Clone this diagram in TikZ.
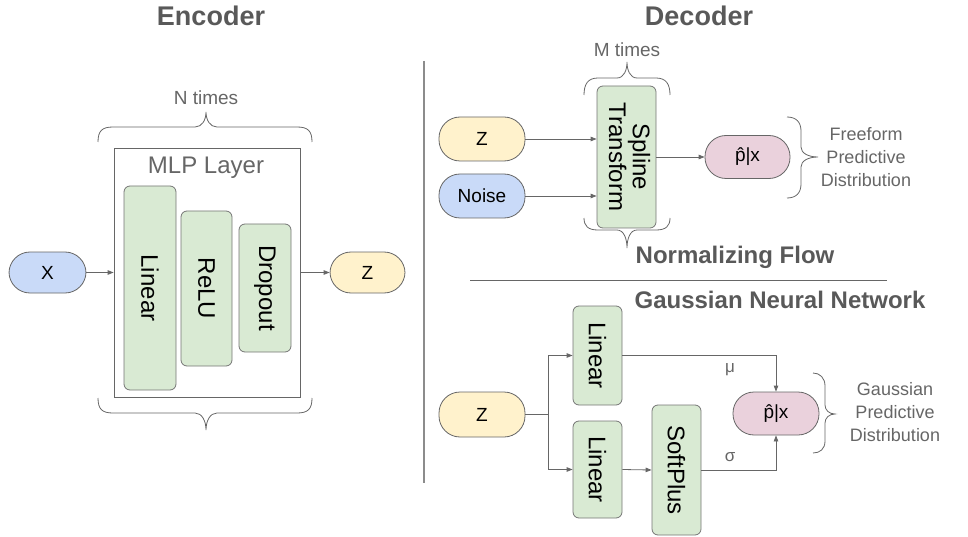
\documentclass[tikz,border=0pt]{standalone}
\usepackage{fontspec}
\setmainfont{Liberation Sans}
\usetikzlibrary{arrows.meta}
\definecolor{cblue}{HTML}{C9DAF8}
\definecolor{cyellow}{HTML}{FFF2CC}
\definecolor{cpink}{HTML}{EAD1DC}
\definecolor{cgreen}{HTML}{D9EAD3}
\definecolor{cline}{HTML}{666666}
\definecolor{ctitle}{HTML}{595959}
\definecolor{clabel}{HTML}{666666}
\tikzset{
  pill/.style={draw=cline, line width=0.8pt, rounded corners=21pt, inner sep=0pt, font=\fontsize{19}{22}\selectfont},
  greenbox/.style={draw=cline!90, fill=cgreen, line width=0.8pt, rounded corners=6pt, inner sep=0pt, font=\fontsize{24}{21}\selectfont},
  title/.style={text=ctitle, font=\bfseries\fontsize{24}{28}\selectfont},
  bigtitle/.style={text=ctitle, font=\bfseries\fontsize{27}{30}\selectfont},
  lbl/.style={text=clabel, font=\fontsize{19}{22}\selectfont},
  side/.style={text=clabel, align=center, font=\fontsize{18}{23}\selectfont},
  arr/.style={draw=cline, line width=0.8pt, -{Triangle[length=6pt,width=4.5pt]}},
  conn/.style={draw=cline, line width=0.8pt},
  bracestyle/.style={draw=cline, line width=0.8pt},
}
\begin{document}
\begin{tikzpicture}[x=1pt,y=-1pt]
\useasboundingbox (0,0) rectangle (968,537);

% ---------------- Encoder ----------------
\node[bigtitle] (enctitle) at (211,16) {Encoder};
\node[lbl] (ntimes) at (206,98) {N times};
\draw[bracestyle] (98,142) .. controls (98,131) and (102,127) .. (113,127) -- (195,127) .. controls (202,127) and (206,120) .. (206,112) .. controls (206,120) and (210,127) .. (217,127) -- (297,127) .. controls (308,127) and (312,131) .. (312,142);
\draw[bracestyle] (98,398) .. controls (98,409) and (102,413) .. (113,413) -- (195,413) .. controls (202,413) and (206,421) .. (206,430) .. controls (206,421) and (210,413) .. (217,413) -- (297,413) .. controls (308,413) and (312,409) .. (312,398);

\node[draw=cline, line width=0.8pt, minimum width=186pt, minimum height=249pt, inner sep=0pt] (mlp) at (207,272.5) {};
\node[text=clabel, font=\fontsize{24}{28}\selectfont] (mlptitle) at (206,168) {MLP Layer};
\node[greenbox, minimum width=52pt, minimum height=204pt] (lin) at (150,288) {\rotatebox{-90}{Linear}};
\node[greenbox, minimum width=51pt, minimum height=155pt] (relu) at (206.5,288.5) {\rotatebox{-90}{ReLU}};
\node[greenbox, minimum width=52pt, minimum height=128pt] (drop) at (265,288) {\rotatebox{-90}{Dropout}};

\node[pill, fill=cblue, minimum width=77pt, minimum height=41pt] (x) at (47.5,272.5) {X};
\node[pill, fill=cyellow, minimum width=75pt, minimum height=41pt] (zenc) at (367.5,272.5) {Z};
\draw[arr] (x.east) -- (mlp.west);
\draw[arr] (mlp.east) -- (zenc.west);

% separator
\coordinate (septop) at (424,61);
\coordinate (sepbot) at (424,483);
\draw[draw=gray!90, line width=1.8pt] (septop) -- (sepbot);

% ---------------- Decoder ----------------
\node[bigtitle] (dectitle) at (699,16) {Decoder};
\node[lbl] (mtimes) at (627,50) {M times};
\draw[bracestyle] (584,95) .. controls (584,84) and (588,78) .. (598,78) -- (617,78) .. controls (624,78) and (627,70) .. (627,62) .. controls (627,70) and (630,78) .. (637,78) -- (656,78) .. controls (666,78) and (670,84) .. (670,95);
\draw[bracestyle] (584,218) .. controls (584,226) and (588,230) .. (598,230) -- (617,230) .. controls (624,230) and (627,239) .. (627,248) .. controls (627,239) and (630,230) .. (637,230) -- (656,230) .. controls (666,230) and (670,226) .. (670,218);

\node[greenbox, minimum width=59pt, minimum height=142pt] (spline) at (626.5,157) {\rotatebox{-90}{\begin{tabular}{@{}c@{}}Spline\\Transform\end{tabular}}};
\node[pill, fill=cyellow, minimum width=86pt, minimum height=44pt] (z1) at (482,139) {Z};
\node[pill, fill=cblue, minimum width=86pt, minimum height=44pt] (noise) at (482,196) {Noise};
\node[pill, fill=cpink, minimum width=85pt, minimum height=43pt] (p1) at (747.5,157) {\^{p}|x};
\draw[arr] (z1.east) -- (z1.east -| spline.west);
\draw[arr] (noise.east) -- (noise.east -| spline.west);
\draw[arr] (spline.east) -- (p1.west);

\draw[bracestyle] (787,117) .. controls (796,117) and (801,122) .. (801,131) -- (801,147) .. controls (801,153) and (808,157) .. (818,157) .. controls (808,157) and (801,161) .. (801,167) -- (801,184) .. controls (801,193) and (796,198) .. (787,198);
\node[side] (ff) at (866,157) {Freeform\\Predictive\\Distribution};

\node[title] (nftitle) at (735,257) {Normalizing Flow};
\coordinate (hl1) at (470,280);
\coordinate (hl2) at (887,280);
\draw[draw=cline, line width=1pt] (hl1) -- (hl2);
\node[title] (gnntitle) at (780,300) {Gaussian Neural Network};

\node[pill, fill=cyellow, minimum width=86pt, minimum height=45pt] (z2) at (482,414.5) {Z};
\node[greenbox, minimum width=49pt, minimum height=99pt] (lin1) at (597.5,355.5) {\rotatebox{-90}{Linear}};
\node[greenbox, minimum width=49pt, minimum height=97pt] (lin2) at (597.5,469.5) {\rotatebox{-90}{Linear}};
\node[greenbox, minimum width=49pt, minimum height=130pt] (soft) at (676.5,470) {\rotatebox{-90}{SoftPlus}};
\node[pill, fill=cpink, minimum width=86pt, minimum height=43pt] (p2) at (776,413.5) {\^{p}|x};

\coordinate (jn) at (548,414.5);
\draw[conn] (z2.east) -- (jn);
\draw[arr] (jn) |- (lin1.west);
\draw[arr] (jn) |- (lin2.west);
\draw[arr] (lin2.east) -- (soft.west);
\draw[arr] (lin1.east) -| (p2.north);
\draw[arr] (soft.east) -| (p2.south);
\node[text=clabel, font=\fontsize{17}{20}\selectfont] (mu) at (730,370) {μ};
\node[text=clabel, font=\fontsize{17}{20}\selectfont] (sigma) at (730,457) {σ};

\draw[bracestyle] (813,373) .. controls (820,373) and (825,378) .. (825,386) -- (825,405) .. controls (825,410) and (829,414) .. (835,414) .. controls (829,414) and (825,418) .. (825,423) -- (825,441) .. controls (825,449) and (820,453) .. (813,453);
\node[side] (gpd) at (895,412) {Gaussian\\Predictive\\Distribution};
\end{tikzpicture}
\end{document}
